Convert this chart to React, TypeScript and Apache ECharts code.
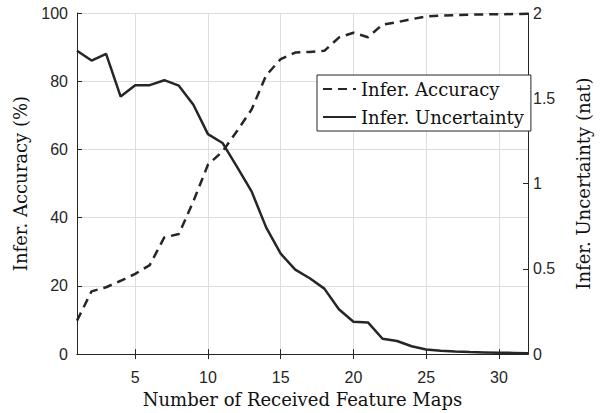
import React, { useEffect, useRef } from "react";
import * as echarts from "echarts";

const featureMaps = [1, 2, 3, 4, 5, 6, 7, 8, 9, 10, 11, 12, 13, 14, 15, 16, 17, 18, 19, 20, 21, 22, 23, 24, 25, 26, 27, 28, 29, 30, 31, 32];
const accuracy = [9.8, 18.4, 19.6, 21.5, 23.5, 26.1, 34.2, 35.2, 44.8, 55.5, 59.4, 65.4, 71.7, 81.7, 86.5, 88.4, 88.6, 88.9, 92.8, 94.2, 92.9, 96.6, 97.3, 98.2, 99.0, 99.2, 99.4, 99.5, 99.6, 99.6, 99.7, 99.8];
const uncertainty = [1.779, 1.721, 1.76, 1.51, 1.577, 1.577, 1.606, 1.574, 1.462, 1.29, 1.238, 1.098, 0.954, 0.743, 0.589, 0.495, 0.445, 0.384, 0.263, 0.19, 0.186, 0.09, 0.077, 0.046, 0.027, 0.02, 0.015, 0.012, 0.01, 0.008, 0.007, 0.005];
const xTicks = [5, 10, 15, 20, 25, 30];

const INK = "#262626";
const GRID = "#dedede";
const SANS = "Liberation Sans";
const SERIF = "DejaVu Serif";

export default function App() {
  const ref = useRef<HTMLDivElement>(null);
  useEffect(() => {
    const chart = echarts.init(ref.current!, null, { renderer: "svg" });
    chart.setOption({
      animation: false,
      backgroundColor: "#ffffff",
      grid: { left: 77, right: 59, top: 13, bottom: 52, containLabel: false },
      legend: {
        orient: "vertical",
        left: 317,
        top: 75,
        padding: [5, 7, 5, 5],
        itemGap: 10,
        itemWidth: 33,
        itemHeight: 14,
        backgroundColor: "#ffffff",
        borderColor: INK,
        borderWidth: 1,
        borderRadius: 0,
        itemStyle: { opacity: 0 },
        textStyle: { fontFamily: SERIF, fontSize: 18, color: "#111" },
        data: ["Infer. Accuracy", "Infer. Uncertainty"],
      },
      xAxis: [
        {
          type: "value",
          min: 1,
          max: 32,
          position: "bottom",
          name: "Number of Received Feature Maps",
          nameLocation: "middle",
          nameGap: 31,
          nameTextStyle: { fontFamily: SERIF, fontSize: 18, color: "#111" },
          axisLine: { show: true, lineStyle: { color: INK, width: 1 } },
          axisTick: { show: true, inside: true, length: 5, customValues: xTicks, lineStyle: { color: INK } },
          axisLabel: { customValues: xTicks, fontFamily: SANS, fontSize: 16, color: INK, margin: 15 },
          splitLine: { show: true, lineStyle: { color: GRID, width: 1 } },
        },
        {
          type: "value",
          min: 1,
          max: 32,
          position: "top",
          axisLine: { show: true, lineStyle: { color: INK, width: 1 } },
          axisTick: { show: true, inside: true, length: 5, customValues: xTicks, lineStyle: { color: INK } },
          axisLabel: { show: false },
          splitLine: { show: false },
        },
      ],
      yAxis: [
        {
          type: "value",
          min: 0,
          max: 100,
          interval: 20,
          position: "left",
          name: "Infer. Accuracy (%)",
          nameLocation: "middle",
          nameGap: 48,
          nameTextStyle: { fontFamily: SERIF, fontSize: 18, color: "#111" },
          axisLine: { show: true, lineStyle: { color: INK, width: 1 } },
          axisTick: { show: true, inside: true, length: 5, lineStyle: { color: INK } },
          axisLabel: { fontFamily: SANS, fontSize: 16, color: INK, margin: 9 },
          splitLine: { show: true, lineStyle: { color: GRID, width: 1 } },
        },
        {
          type: "value",
          min: 0,
          max: 2,
          interval: 0.5,
          position: "right",
          name: "Infer. Uncertainty (nat)",
          nameLocation: "middle",
          nameGap: 46,
          nameTextStyle: { fontFamily: SERIF, fontSize: 18, color: "#111" },
          axisLine: { show: true, lineStyle: { color: INK, width: 1 } },
          axisTick: { show: true, inside: true, length: 5, lineStyle: { color: INK } },
          axisLabel: { fontFamily: SANS, fontSize: 16, color: INK, margin: 5 },
          splitLine: { show: false },
        },
      ],
      series: [
        {
          name: "Infer. Accuracy",
          type: "line",
          xAxisIndex: 0,
          yAxisIndex: 0,
          symbol: "none",
          data: featureMaps.map((x, i) => [x, accuracy[i]]),
          lineStyle: { color: INK, width: 2.5, type: [9, 6] },
          itemStyle: { color: INK },
        },
        {
          name: "Infer. Uncertainty",
          type: "line",
          xAxisIndex: 0,
          yAxisIndex: 1,
          symbol: "none",
          data: featureMaps.map((x, i) => [x, uncertainty[i]]),
          lineStyle: { color: INK, width: 2.5 },
          itemStyle: { color: INK },
        },
      ],
    });
    return () => chart.dispose();
  }, []);
  return <div ref={ref} style={{ width: 600, height: 413, position: "absolute", left: 0, top: 0 }} />;
}
